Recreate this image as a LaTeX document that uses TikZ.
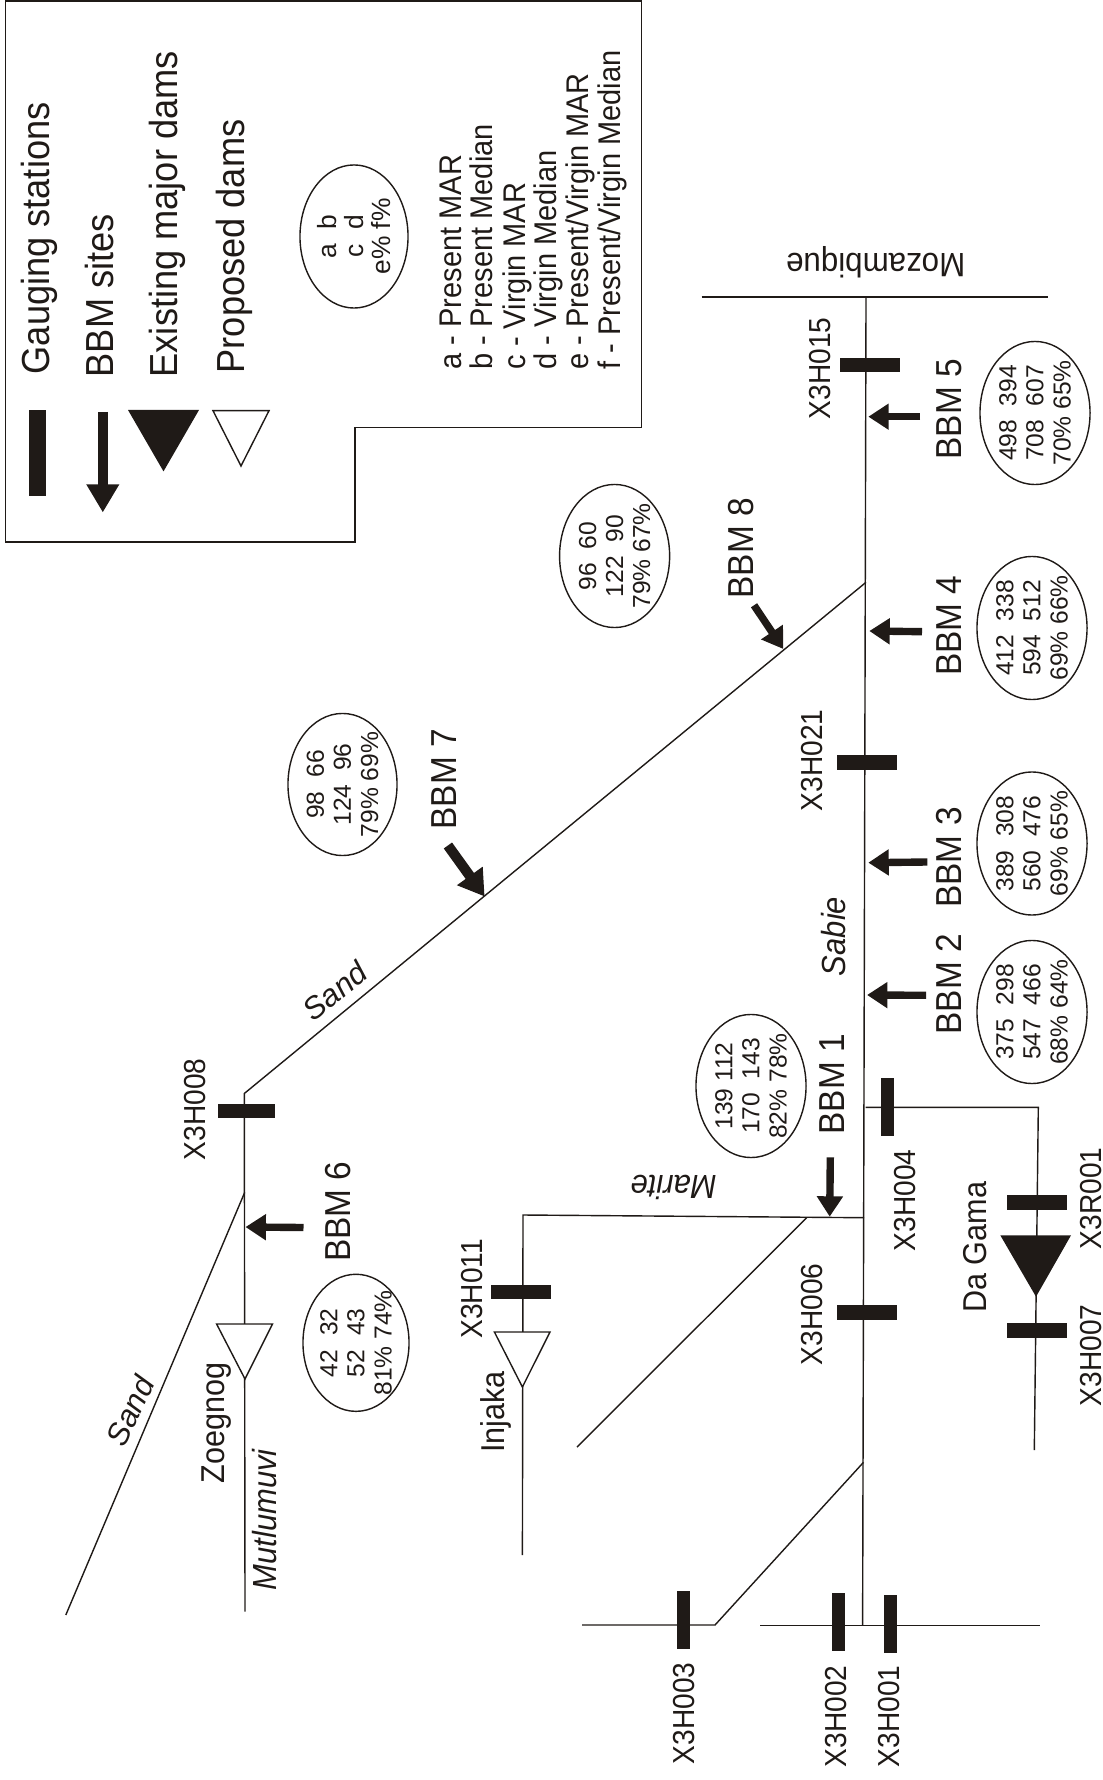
\documentclass[tikz,border=0pt]{standalone}
\usepackage{fontspec}
\setmainfont{Liberation Sans}
\usetikzlibrary{arrows.meta,shapes.geometric}
\definecolor{ink}{HTML}{1F1A17}
\tikzset{
  rot/.style={rotate=90,anchor=base west,inner sep=0pt,yscale=1.08,text=ink},
  legbig/.style={rot,font=\fontsize{10.3}{12}\selectfont},
  legsmall/.style={rot,font=\fontsize{8.25}{9}\selectfont},
  bbm/.style={rot,font=\fontsize{9.5}{11}\selectfont},
  station/.style={rot,font=\fontsize{8}{10}\selectfont},
  place/.style={rot,font=\fontsize{8.7}{10}\selectfont},
  river/.style={rot,font=\fontsize{8.8}{10}\selectfont\itshape},
  upside/.style={rotate=180,anchor=base west,inner sep=0pt,yscale=1.08,text=ink},
  stream/.style={draw=ink,line width=0.4pt},
  gauge/.style={fill=ink,inner sep=0pt,minimum width=.6cm,minimum height=.145cm},
  gaugeup/.style={fill=ink,inner sep=0pt,minimum width=.13cm,minimum height=.58cm},
  bubble/.style={ellipse,draw=ink,line width=0.4pt,inner sep=0pt,minimum width=1.1cm,minimum height=1.43cm},
  bubtext/.style={rotate=90,align=center,inner sep=0pt,text=ink,font=\fontsize{7}{7.7}\selectfont},
  bbmarrow/.style={draw=ink,line width=2.1pt,-{Triangle[length=5.8pt,width=7.1pt]}},
  dam/.style={draw=ink,line width=0.4pt,fill=white},
  damfull/.style={fill=ink},
}
\begin{document}
\begin{tikzpicture}[x=0.01cm,y=-0.01cm]
  \useasboundingbox (0,0) rectangle (1102,1780);
  % legend
  \draw[stream] (5.5,1) -- (641.5,1) -- (641.5,427.5) -- (355,427.5) -- (355,542) -- (5.5,542) -- cycle;
  \node[gaugeup,minimum width=.177cm,minimum height=.85cm] (legbar) at (37.5,453) {};
  \coordinate (legtail) at (102.8,412);
  \coordinate (legtip) at (102.8,512.5);
  \draw[bbmarrow,line width=3pt,-{Triangle[length=8pt,width=8.8pt]}] (legtail) -- (legtip);
  \fill[damfull] (128,410) -- (199,410) -- (163.5,471.4) -- cycle;
  \draw[dam] (213,410.7) -- (269,410.7) -- (241,466) -- cycle;
  \node[legbig] (leggauge) at (49.7,375) {Gauging stations};
  \node[legbig] (legbbm) at (113.6,378) {BBM sites};
  \node[legbig] (legmajor) at (177.6,378) {Existing major dams};
  \node[legbig] (legprop) at (244,374) {Proposed dams};
  \node[bubble,minimum width=1.08cm,minimum height=1.43cm] (legbub) at (354,236.5) {};
  \node[bubtext,font=\fontsize{7.5}{7.7}\selectfont] (legbubtext) at (legbub) {a~~b\\c~~d\\e\%~f\%};
  \node[legsmall] (lega) at (461,370) {a - Present MAR};
  \node[legsmall] (legb) at (492.4,370) {b - Present Median};
  \node[legsmall] (legc) at (525,370) {c - Virgin MAR};
  \node[legsmall] (legd) at (556.4,370) {d - Virgin Median};
  \node[legsmall] (lege) at (588.4,370) {e - Present/Virgin MAR};
  \node[legsmall] (legf) at (620.8,370) {f - Present/Virgin Median};
  % river junctions
  \coordinate (sabieEnd) at (866,297);
  \coordinate (sabieSand) at (866,582.3);
  \coordinate (sabieDaGama) at (865.5,1107.3);
  \coordinate (sabieMarite) at (864,1217.7);
  \coordinate (sabieX3) at (863.5,1462.3);
  \coordinate (sabieStart) at (862.6,1625.7);
  \coordinate (sandKink) at (244.3,1093.5);
  \coordinate (sandMeet) at (244.7,1192.4);
  \coordinate (mutluEnd) at (245,1611.7);
  \coordinate (sandEnd) at (65.8,1615);
  \coordinate (mariteKink) at (523,1215);
  \coordinate (injakaEnd) at (522.4,1555);
  \coordinate (branchTop) at (806.7,1217.7);
  \coordinate (branchEnd) at (577,1447);
  \coordinate (daGamaKink) at (1038.3,1107.3);
  \coordinate (daGamaEnd) at (1034.3,1450);
  \coordinate (borderL) at (701.7,297);
  \coordinate (borderR) at (1048,297);
  \coordinate (sourceL) at (760,1625.7);
  \coordinate (sourceR) at (1040,1625.7);
  \coordinate (threeL) at (582,1625);
  \coordinate (threeR) at (715,1625);
  % rivers
  \draw[stream] (borderL) -- (borderR);
  \draw[stream] (sabieEnd) -- (sabieStart);
  \draw[stream] (sourceL) -- (sourceR);
  \draw[stream] (threeL) -- (threeR) -- (sabieX3);
  \draw[stream] (sabieSand) -- (sandKink) -- (mutluEnd);
  \draw[stream] (sandMeet) -- (sandEnd);
  \draw[stream] (sabieMarite) -- (mariteKink) -- (injakaEnd);
  \draw[stream] (branchTop) -- (branchEnd);
  \draw[stream] (sabieDaGama) -- (daGamaKink) -- (daGamaEnd);
  % dams
  \fill[damfull] (1000.3,1235.3) -- (1071,1235.3) -- (1036,1296.7) -- cycle;
  \draw[dam] (216.6,1324) -- (272.5,1324) -- (245,1379) -- cycle;
  \draw[dam] (494.4,1332) -- (550,1332) -- (522.4,1387) -- cycle;
  % gauging stations
  \node[gauge] (barH015) at (870,365.2) {};
  \node[gauge] (barH021) at (867,762.5) {};
  \node[gauge] (barH006) at (867,1312.5) {};
  \node[gauge,minimum width=.57cm] (barH008) at (246.8,1110.8) {};
  \node[gauge] (barH011) at (521.2,1292.2) {};
  \node[gauge] (barR001) at (1036.7,1202.7) {};
  \node[gauge] (barH007) at (1036.7,1330.7) {};
  \node[gaugeup] (barH004) at (887.2,1107) {};
  \node[gaugeup] (barH003) at (683.8,1620) {};
  \node[gaugeup] (barH002) at (838.7,1621.5) {};
  \node[gaugeup] (barH001) at (890.7,1623.7) {};
  \node[station] (lblH015) at (830,420) {X3H015};
  \node[station] (lblH021) at (822.7,812) {X3H021};
  \node[station] (lblH004) at (915,1251.7) {X3H004};
  \node[station] (lblH006) at (822.7,1365.7) {X3H006};
  \node[station] (lblH008) at (205,1160.7) {X3H008};
  \node[station] (lblH011) at (482,1339.4) {X3H011};
  \node[station] (lblR001) at (1101,1250) {X3R001};
  \node[station] (lblH007) at (1101,1406.7) {X3H007};
  \node[station] (lblH003) at (694.8,1765) {X3H003};
  \node[station] (lblH002) at (846.8,1767.7) {X3H002};
  \node[station] (lblH001) at (899.5,1767.7) {X3H001};
  % BBM sites
  \coordinate (tail1) at (830.3,1157.3);
  \coordinate (tip1) at (829.7,1216.7);
  \coordinate (tail2) at (926,995.3);
  \coordinate (tip2) at (867,995);
  \coordinate (tail3) at (927.3,862);
  \coordinate (tip3) at (868.3,862.7);
  \coordinate (tail4) at (922,631.7);
  \coordinate (tip4) at (869.3,631);
  \coordinate (tail5) at (920,416.7);
  \coordinate (tip5) at (868.3,416.7);
  \coordinate (tail6) at (303.5,1227.5);
  \coordinate (tip6) at (245.5,1227);
  \coordinate (tail7) at (447.9,845.5);
  \coordinate (tip7) at (484.6,896.5);
  \coordinate (tail8) at (754,605.3);
  \coordinate (tip8) at (783.3,649);
  \draw[bbmarrow] (tail1) -- (tip1);
  \draw[bbmarrow] (tail2) -- (tip2);
  \draw[bbmarrow] (tail3) -- (tip3);
  \draw[bbmarrow] (tail4) -- (tip4);
  \draw[bbmarrow] (tail5) -- (tip5);
  \draw[bbmarrow] (tail6) -- (tip6);
  \draw[bbmarrow,line width=2.9pt,-{Triangle[length=7.2pt,width=8.5pt]}] (tail7) -- (tip7);
  \draw[bbmarrow] (tail8) -- (tip8);
  \node[bbm] (bbm1) at (844,1135) {BBM 1};
  \node[bbm] (bbm2) at (961,1035) {BBM 2};
  \node[bbm] (bbm3) at (961,908.3) {BBM 3};
  \node[bbm] (bbm4) at (961.7,676.7) {BBM 4};
  \node[bbm] (bbm5) at (961.7,460) {BBM 5};
  \node[bbm] (bbm6) at (350,1262.6) {BBM 6};
  \node[bbm] (bbm7) at (456,830) {BBM 7};
  \node[bbm] (bbm8) at (753,599) {BBM 8};
  % flow values
  \node[bubble] (bub1) at (751,1086) {};
  \node[bubtext] (val1) at (bub1) {139~112\\170~~143\\82\%~78\%};
  \node[bubble] (bub2) at (1032,1012) {};
  \node[bubtext] (val2) at (bub2) {375~~298\\547~~466\\68\%~64\%};
  \node[bubble] (bub3) at (1032,843.5) {};
  \node[bubtext] (val3) at (bub3) {389~~308\\560~~476\\69\%~65\%};
  \node[bubble] (bub4) at (1032,628) {};
  \node[bubtext] (val4) at (bub4) {412~~338\\594~~512\\69\%~66\%};
  \node[bubble] (bub5) at (1035,413) {};
  \node[bubtext] (val5) at (bub5) {498~~394\\708~~607\\70\%~65\%};
  \node[bubble,minimum width=1.06cm,minimum height=1.37cm] (bub6) at (356,1342.8) {};
  \node[bubtext] (val6) at (bub6) {42~~32\\52~~43\\81\%~74\%};
  \node[bubble,minimum width=1.09cm,minimum height=1.42cm] (bub7) at (342.5,784.5) {};
  \node[bubtext] (val7) at (bub7) {98~~66\\124~~96\\79\%~69\%};
  \node[bubble] (bub8) at (614.6,556) {};
  \node[bubtext] (val8) at (bub8) {96~~60\\122~~90\\79\%~67\%};
  % names
  \node[place] (zoegnog) at (224,1483.8) {Zoegnog};
  \node[place] (injaka) at (504.4,1453.4) {Injaka};
  \node[place] (dagama) at (986.7,1313.3) {Da Gama};
  \node[river] (sabie) at (845.7,976.7) {Sabie};
  \node[river] (mutlumuvi) at (276,1591) {Mutlumuvi};
  \node[upside,font=\fontsize{8.8}{10}\selectfont\itshape] (marite) at (717.3,1175) {Marite};
  \node[upside,font=\fontsize{8.9}{10}\selectfont] (mozambique) at (966,254) {Mozambique};
  \node[rotate=39,inner sep=0pt,text=ink,font=\fontsize{8.8}{10}\selectfont\itshape] (sandA) at (335,991) {Sand};
  \node[rotate=65,inner sep=0pt,text=ink,font=\fontsize{8.8}{10}\selectfont\itshape] (sandB) at (130,1411) {Sand};
\end{tikzpicture}
\end{document}
